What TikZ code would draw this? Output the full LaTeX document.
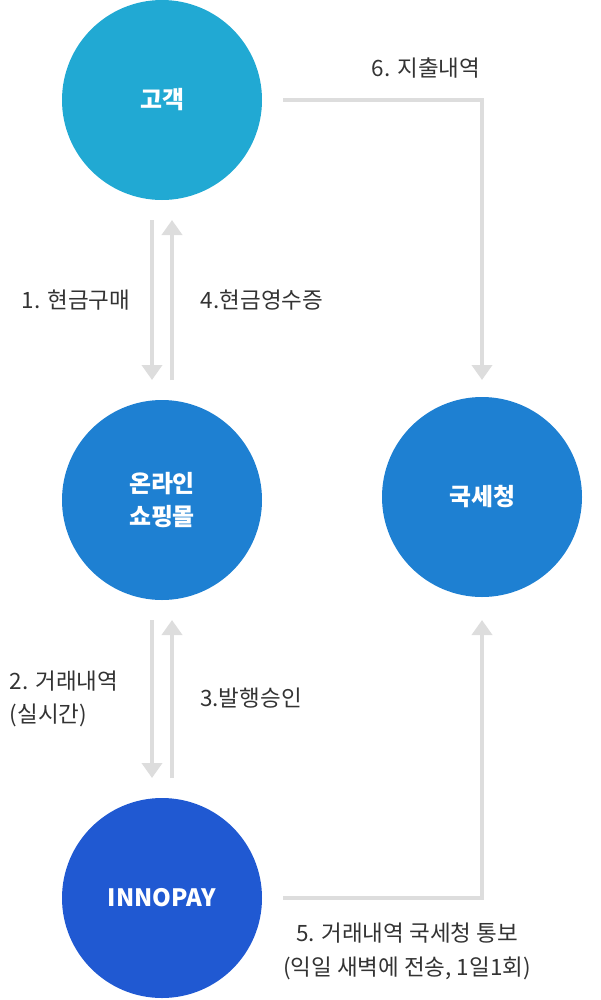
\documentclass[tikz,border=0pt]{standalone}
\usepackage{fontspec}
\setmainfont{Noto Sans CJK KR}
\usetikzlibrary{arrows.meta}
\definecolor{skyblue}{HTML}{21A9D3}
\definecolor{midblue}{HTML}{1E80D2}
\definecolor{deepblue}{HTML}{2059D2}
\definecolor{flowgray}{HTML}{DDDDDD}
\definecolor{textgray}{HTML}{333333}
\tikzset{
  party/.style={circle, minimum size=200*0.025cm, inner sep=0pt, text=white, font=\fontsize{17}{24}\selectfont\bfseries, align=center},
  flow/.style={draw=flowgray, line width=4*0.025cm, -{Triangle[width=20*0.025cm, length=15*0.025cm]}},
  note/.style={text=textgray, font=\fontsize{16}{24}\selectfont, align=left}
}
\begin{document}
\begin{tikzpicture}[x=0.025cm, y=-0.025cm]
\useasboundingbox (0,0) rectangle (600,1000);

%Parties
\node[party, fill=skyblue] (client) at (162,100) {고객};
\node[party, fill=midblue] (shop) at (162,500) {온라인\\쇼핑몰};
\node[party, fill=deepblue] (pg) at (162,898) {INNOPAY};
\node[party, fill=midblue] (nts) at (482,497) {국세청};

%Aux
\coordinate (c1) at (283,100);
\coordinate (c2) at (482,100);
\coordinate (c3) at (283,898);
\coordinate (c4) at (482,898);

%Flows
\draw[flow] (152,220) -- (152,380);
\draw[flow] (172,380) -- (172,220);
\draw[flow] (152,620) -- (152,778);
\draw[flow] (172,778) -- (172,620);
\draw[flow] (c1) -- (c2) -- (482,380);
\draw[flow] (c3) -- (c4) -- (482,620);

%Labels
\node[note] (l6) at (426,68) {6. 지출내역};
\node[note] (l1) at (76,300) {1. 현금구매};
\node[note] (l4) at (262,300) {4.현금영수증};
\node[note, anchor=west] (l2) at (5,699) {2. 거래내역\\(실시간)};
\node[note] (l3) at (251,698) {3.발행승인};
\node[note, align=center] (l5) at (407,951) {5. 거래내역 국세청 통보\\(익일 새벽에 전송, 1일1회)};
\end{tikzpicture}
\end{document}
